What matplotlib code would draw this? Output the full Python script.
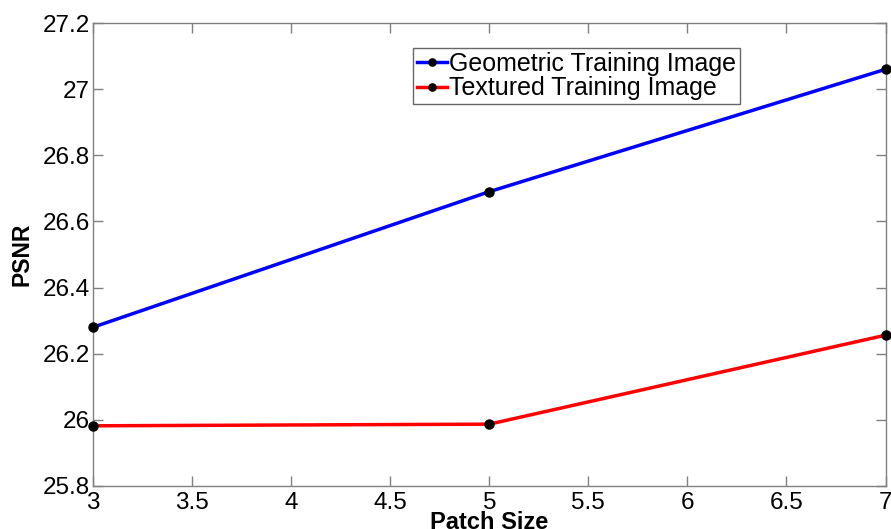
import matplotlib
matplotlib.use("Agg")
import matplotlib.pyplot as plt

patch_size = [3, 5, 7]
geometric_psnr = [26.28, 26.69, 27.06]
textured_psnr = [25.982, 25.987, 26.256]
series_labels = ["Geometric Training Image", "Textured Training Image"]

plt.rcParams['font.family'] = ['Liberation Sans', 'DejaVu Sans']

fig = plt.figure(figsize=(8.91, 5.29), dpi=100)
ax = fig.add_axes([93/891, 1 - 486/529, (885.5 - 93)/891, (486 - 23)/529])

ax.plot(patch_size, geometric_psnr, color='#0000ff', lw=2.5, marker='o',
        ms=6.5, mfc='black', mec='black', label=series_labels[0], clip_on=False, zorder=3)
ax.plot(patch_size, textured_psnr, color='#ff0000', lw=2.5, marker='o',
        ms=6.5, mfc='black', mec='black', label=series_labels[1], clip_on=False, zorder=3)

ax.set_xlim(3, 7)
ax.set_ylim(25.8, 27.2)
ax.set_xticks([3, 3.5, 4, 4.5, 5, 5.5, 6, 6.5, 7])
ax.set_xticklabels(['3', '3.5', '4', '4.5', '5', '5.5', '6', '6.5', '7'])
ax.set_yticks([25.8, 26, 26.2, 26.4, 26.6, 26.8, 27, 27.2])
ax.set_yticklabels(['25.8', '26', '26.2', '26.4', '26.6', '26.8', '27', '27.2'])

for s in ax.spines.values():
    s.set_color('#808080')
    s.set_linewidth(1.0)
ax.tick_params(direction='in', top=True, right=True, length=7, width=1,
               color='#808080', labelsize=17.5, labelcolor='black')
ax.tick_params(axis='y', pad=2)
ax.tick_params(axis='x', pad=4)

ax.set_xlabel('Patch Size', fontsize=17, fontweight='bold', labelpad=-2)
ax.set_ylabel('PSNR', fontsize=16.5, fontweight='bold', labelpad=7)

leg = ax.legend(loc='upper left', bbox_to_anchor=((413 - 93)/(885.5 - 93), 1 - (48 - 23)/463),
                fontsize=18, frameon=True, fancybox=False, handlelength=1.2,
                handletextpad=0.1, borderpad=0.15, labelspacing=0.02, borderaxespad=0,
                markerscale=0.8)
leg.get_frame().set_edgecolor('#404040')
leg.get_frame().set_linewidth(1.0)

fig.savefig('out.png', dpi=100)
